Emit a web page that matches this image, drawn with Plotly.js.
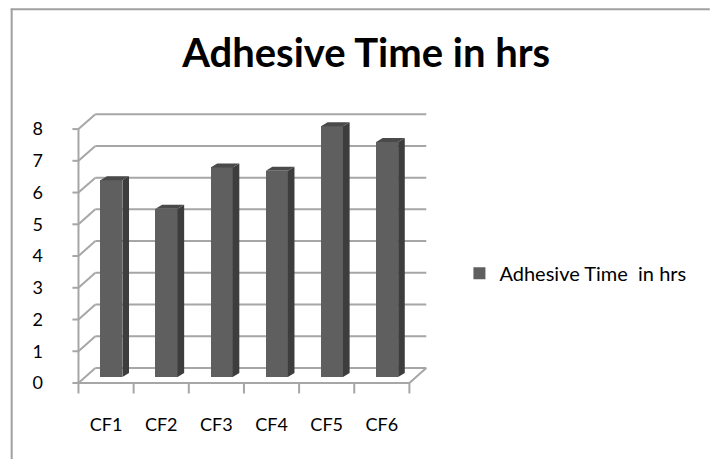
<!DOCTYPE html>
<html>
<head>
<meta charset="utf-8">
<script src="https://cdn.plot.ly/plotly-3.0.1.min.js"></script>
<style>html,body{margin:0;padding:0;background:#fff;}#chart{width:711px;height:459px;}</style>
</head>
<body>
<div id="chart"></div>
<script>
const categories = ["CF1", "CF2", "CF3", "CF4", "CF5", "CF6"];
const values = [6.2, 5.3, 6.6, 6.5, 7.9, 7.4];
const seriesName = "Adhesive Time\u00a0 in hrs";
const yTicks = [0, 1, 2, 3, 4, 5, 6, 7, 8];

// 3D look (data-unit offsets)
const DXF = -0.096, DYF = -0.19;   // front plane
const DXB = 0.21, DYB = 0.28;      // back wall
const BW = 0.4, SX = 0.12, SY = 0.125;
const gridColor = "#a6a6a6";
const n = categories.length;
const xs = categories.map((c, i) => i);

// plot area in pixels
const PL = 69.5, PR = 434.5, PT = 103.5, PB = 396.08;
const PW = PR - PL, PH = PB - PT;
const px = v => (v - PL) / PW;
const py = v => (PB - v) / PH;

const shapes = [];
function line(x0, y0, x1, y1) {
  shapes.push({type: "line", xref: "x", yref: "y", x0, y0, x1, y1, layer: "below",
    line: {color: gridColor, width: 2}});
}
const xL = -0.5, xR = n - 0.5;
const yMax = yTicks[yTicks.length - 1];
yTicks.forEach(k => {
  line(xL + DXB, k + DYB, xR + DXB, k + DYB);
  line(xL + DXF, k + DYF, xL + DXB, k + DYB);
  line(xL + DXF - 0.11, k + DYF, xL + DXF, k + DYF);
});
line(xL + DXF, DYF, xL + DXF, yMax + DYF);
line(xL + DXF, DYF, xR + DXF, DYF);
line(xR + DXF, DYF, xR + DXB, DYB);
for (let i = 0; i <= n; i++) line(xL + i + DXF, DYF, xL + i + DXF, DYF - 0.33);

// side and top faces built from values
const sideX = [], sideY = [], topX = [], topY = [];
values.forEach((v, i) => {
  const r = i + BW / 2, l = i - BW / 2;
  sideX.push(r, r + SX, r + SX, r, r, null);
  sideY.push(0, SY, v + SY, v, 0, null);
  topX.push(l, r, r + SX, l + SX, l, null);
  topY.push(v, v, v + SY, v + SY, v, null);
});

const traces = [
  {type: "bar", x: xs, y: values, name: seriesName, width: BW,
   marker: {color: "#5f5f5f", line: {width: 0}}},
  {type: "scatter", mode: "lines", x: sideX, y: sideY, fill: "toself", fillcolor: "#3d3d3d",
   line: {width: 0, color: "#3d3d3d"}, showlegend: false, hoverinfo: "skip"},
  {type: "scatter", mode: "lines", x: topX, y: topY, fill: "toself", fillcolor: "#4a4a4a",
   line: {width: 0, color: "#4a4a4a"}, showlegend: false, hoverinfo: "skip"}
];

const font = "Lato, 'Open Sans', sans-serif";
const layout = {
  width: 711, height: 459,
  margin: {l: PL, r: 711 - PR, t: PT, b: 459 - PB, pad: 0},
  paper_bgcolor: "#ffffff", plot_bgcolor: "rgba(0,0,0,0)",
  font: {family: font, color: "#000", size: 18},
  title: {text: "<b>Adhesive Time in hrs</b>", font: {family: font, size: 40, color: "#000"},
          x: 0.515, xref: "container", xanchor: "center", y: 1 - 53 / 459, yref: "container", yanchor: "middle"},
  showlegend: true,
  legend: {x: px(460), xanchor: "left", y: py(273), yanchor: "middle", font: {size: 20, color: "#000"},
           bgcolor: "rgba(0,0,0,0)"},
  bargap: 0,
  xaxis: {range: [-0.75, 5.85], showgrid: false, zeroline: false, showline: false, ticks: "",
          tickmode: "array", tickvals: xs.map(i => i + DXF), ticktext: categories,
          ticklabelstandoff: 16, tickfont: {size: 18}, fixedrange: true},
  yaxis: {range: [-0.6, 8.6], showgrid: false, zeroline: false, showline: false, ticks: "",
          tickmode: "array", tickvals: yTicks.map(k => k + DYF), ticktext: yTicks.map(String),
          ticklabelstandoff: 26, tickfont: {size: 18}, fixedrange: true},
  shapes: shapes.concat([
    {type: "line", xref: "paper", yref: "paper", x0: px(10), x1: px(711), y0: py(8.5), y1: py(8.5),
     line: {color: "#a0a0a0", width: 2}},
    {type: "line", xref: "paper", yref: "paper", x0: px(11), x1: px(11), y0: py(8), y1: py(470),
     line: {color: "#a0a0a0", width: 2}}
  ])
};

Plotly.newPlot("chart", traces, layout, {staticPlot: true, displayModeBar: false});
</script>
</body>
</html>
